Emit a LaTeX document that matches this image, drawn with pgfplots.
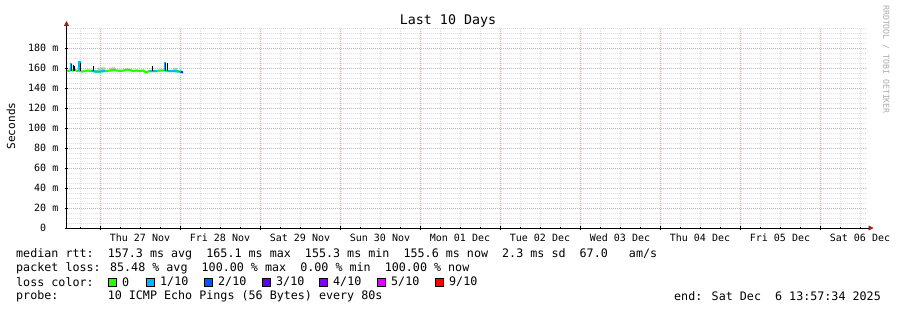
\documentclass[border=0pt]{standalone}
\usepackage{pgfplots}
\pgfplotsset{compat=1.18}
\usetikzlibrary{arrows.meta}
\usepackage{fontspec}
\setmainfont{DejaVu Sans Mono}
\definecolor{lc0}{HTML}{26FF00}
\definecolor{lc1}{HTML}{00B8FF}
\definecolor{lc2}{HTML}{0059FF}
\definecolor{lc3}{HTML}{5E00FF}
\definecolor{lc4}{HTML}{7E00FF}
\definecolor{lc5}{HTML}{DD00FF}
\definecolor{lc9}{HTML}{FF0000}
\definecolor{arrowred}{RGB}{150,30,30}
\definecolor{majgrid}{RGB}{240,165,165}
\definecolor{mingrid}{RGB}{222,222,222}
\definecolor{smoke}{RGB}{190,190,190}
\begin{document}
\begin{tikzpicture}
\useasboundingbox (-66.5bp,-82bp) rectangle (830.5bp,228bp);
\begin{axis}[
  at={(0,0)}, anchor=south west,
  scale only axis, width=800bp, height=200bp,
  xmin=-10.04, xmax=229.96, ymin=0, ymax=200,
  axis lines=left,
  axis line style={line width=0.8bp, black},
  x axis line style={shorten >=-7bp, -{Triangle[length=5bp,width=5bp,color=arrowred]}},
  y axis line style={shorten >=-7bp, -{Triangle[length=5bp,width=5bp,color=arrowred]}},
  xtick={0,24,...,216}, xticklabels={},
  minor xtick={-6,0,...,228},
  extra x ticks={12,36,...,228},
  extra x tick labels={Thu 27 Nov,Fri 28 Nov,Sat 29 Nov,Sun 30 Nov,Mon 01 Dec,Tue 02 Dec,Wed 03 Dec,Thu 04 Dec,Fri 05 Dec,Sat 06 Dec},
  extra x tick style={grid=none, major tick length=0pt},
  ytick={0,20,...,180},
  yticklabels={0\hphantom{mm},20 m,40 m,60 m,80 m,100 m,120 m,140 m,160 m,180 m},
  minor ytick={5,10,...,200},
  grid=both,
  major grid style={majgrid, line width=0.5bp, dash pattern=on 1bp off 1bp},
  minor grid style={mingrid, line width=0.5bp, dash pattern=on 1bp off 1bp},
  tick align=center,
  major tick length=4bp, minor tick length=2bp,
  tick style={black, line width=0.6bp},
  xticklabel style={font=\fontsize{10bp}{12bp}\selectfont, inner sep=0pt, anchor=north, yshift=-6bp},
  yticklabel style={font=\fontsize{10bp}{12bp}\selectfont, inner sep=0pt, anchor=east, xshift=-6bp},
  unbounded coords=jump,
  clip=false,
]
% smoke
\addplot[smoke, line width=2.5bp] coordinates {(-0.6,159) (1.5,159.5) (nan,nan) (3,159) (4.5,159.5) (nan,nan) (22,159) (23.2,159)};
% median, 0 loss
\addplot[lc0, line width=2.2bp] coordinates {
(-9.9,157.5) (-9.3,157) (-8.7,158) (-8.1,157.5) (-7.5,158) (-6.9,157) (-6.3,157.5)
(-5.4,156.5) (-4.5,157) (-3.6,157.5) (-2.7,157) (-2.0,157.5) (-1.5,156.5)
(0,156.5) (1.5,157) (2.1,157) (3,157.5) (4.2,158) (5.1,157.5) (6,157) (7.2,157.5)
(8.1,158.5) (9,158) (9.9,157) (10.8,157.5) (12,157) (12.9,157.5) (13.8,155.5)
(14.4,156.5) (15,157) (16,157) (17.1,157) (18,157.5) (19.5,157.5) (20.4,157)
(22,157) (24.3,156.5)};
% median, 1/10 loss
\addplot[lc1, line width=2bp] coordinates {
(-2.6,157) (-1.5,156.5) (0,156.5) (1.5,157) (nan,nan)
(15,157) (16,157) (17.1,157) (nan,nan)
(20.4,157) (22,157) (23.4,156.5) (24.3,156.5)};
\addplot[lc1, line width=1.5bp] coordinates {
(-8.7,157.5) (-8.7,165.5) (nan,nan)
(-6.3,157.5) (-6.3,166) (-5.8,166) (-5.8,157.5) (nan,nan)
(19.5,157.5) (19.5,165) (19.9,165)};
% median, 3/10 loss
\addplot[lc3, line width=2bp] coordinates {(24.3,156.5) (24.9,155.3)};
% dark spikes
\addplot[black, line width=1bp] coordinates {
(-8.4,157) (-8.4,164) (nan,nan)
(-8.0,157) (-8.0,163.5) (nan,nan)
(-7.6,157) (-7.6,162) (nan,nan)
(-5.9,157) (-5.9,165.5) (nan,nan)
(-2.0,157) (-2.0,162.5) (nan,nan)
(15.8,157) (15.8,162) (nan,nan)
(19.7,157) (19.7,165) (nan,nan)
(20.2,157) (20.2,165)};
\end{axis}
% titles
\node[font=\fontsize{13.3bp}{16bp}\selectfont, inner sep=0pt] at (381.5bp,207.5bp) {Last 10 Days};
\node[font=\fontsize{11.1bp}{13bp}\selectfont, inner sep=0pt, rotate=90] at (-55.5bp,102bp) {Seconds};
\node[font=\fontsize{8.2bp}{10bp}\selectfont, inner sep=0pt, rotate=-90, text=black!33] at (819.5bp,168.5bp) {RRDTOOL / TOBI OETIKER};
% legend text
\begin{scope}[every node/.style={font=\fontsize{11.7bp}{14bp}\selectfont, inner sep=0pt, anchor=west}]
\node at (-50.5bp,-26bp) {median rtt:~~157.3 ms avg~~165.1 ms max~~155.3 ms min~~155.6 ms now~~2.3 ms sd~~67.0~~~am/s};
\node at (-50.5bp,-40bp) {packet loss: 85.48 \% avg~~100.00 \% max~~0.00 \% min~~100.00 \% now};
\node at (-50.5bp,-54bp) {loss color:};
\node at (-50.5bp,-68bp) {probe:~~~~~~~10 ICMP Echo Pings (56 Bytes) every 80s};
\node[anchor=east] at (814.5bp,-68bp) {end: Sat Dec~~6 13:57:34 2025};
\foreach \bx/\col/\lab in {41.5/lc0/0, 79.5/lc1/1\slash 10, 137.5/lc2/2\slash 10, 195.5/lc3/3\slash 10, 252.5/lc4/4\slash 10, 310.5/lc5/5\slash 10, 368.5/lc9/9\slash 10}{
  \fill[\col, draw=black, line width=0.6bp] (\bx bp,-58bp) rectangle ++(8bp,8bp);
  \node at (\bx bp+14bp,-54bp) {\lab};
}
\end{scope}
\end{tikzpicture}
\end{document}
